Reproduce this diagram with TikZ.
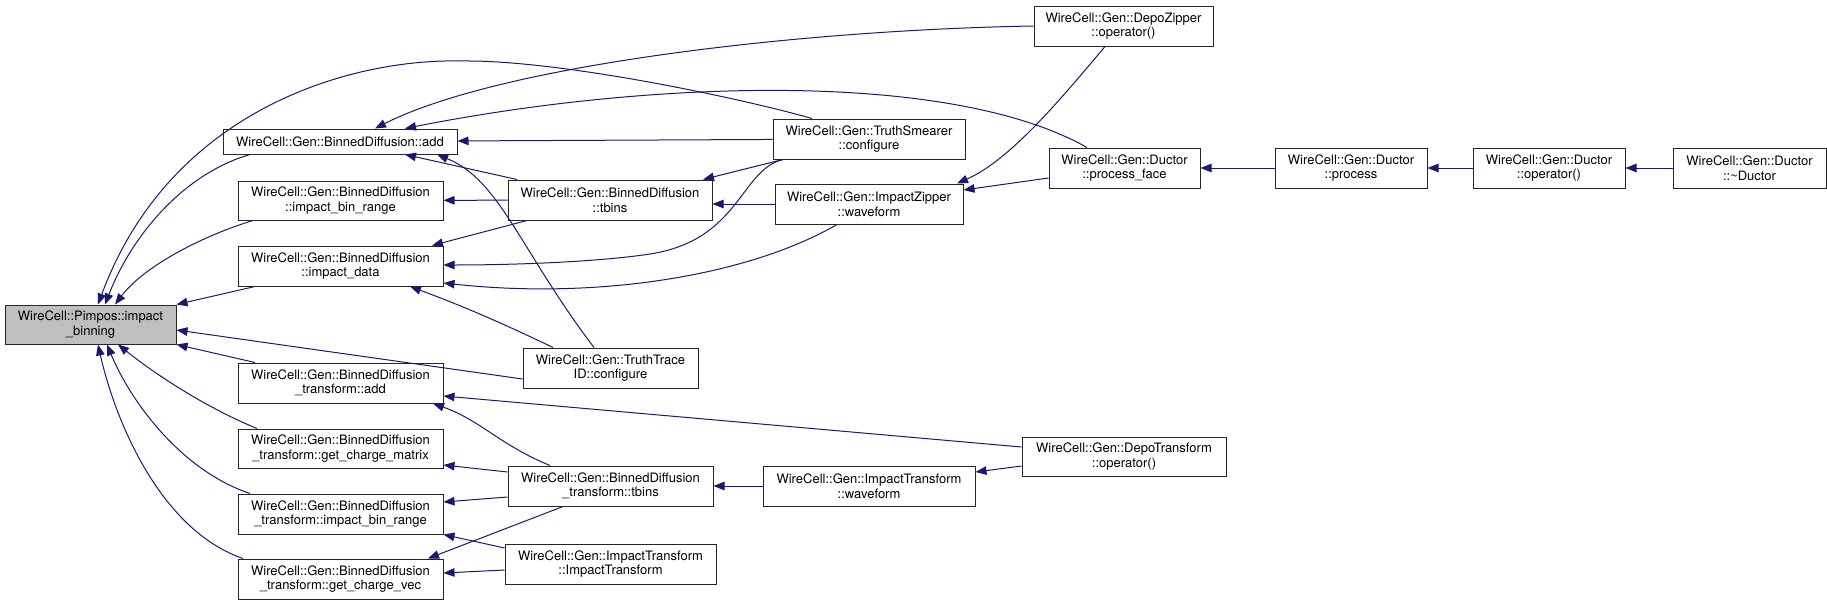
\documentclass[tikz,border=0pt]{standalone}
\usepackage{fontspec}
\setmainfont{TeX Gyre Heros}
\usetikzlibrary{arrows.meta}
\definecolor{edgeblue}{HTML}{191970}
\definecolor{hilite}{HTML}{BFBFBF}
\begin{document}
\begin{tikzpicture}[x=1pt,y=-1pt,
  fn/.style={draw=black!85, fill=white, line width=1pt, inner sep=0pt,
    minimum height=40pt, align=center, font=\fontsize{13}{14.5}\selectfont},
  call/.style={draw=edgeblue, line width=1pt, -{Triangle[length=11pt,width=8.5pt]}}]
\useasboundingbox (0,0) rectangle (1827,605);

  % Callee of all
  \node[fn, fill=hilite, minimum width=171pt, minimum height=39pt] (ib) at (90.5,324.5)
    {WireCell::Pimpos::impact\\\_binning};

  % Column 2
  \node[fn, minimum width=234pt, minimum height=25pt] (bdadd) at (340,141.5) {WireCell::Gen::BinnedDiffusion::add};
  \node[fn, minimum width=205pt, minimum height=39pt] (bdibr) at (340.5,200.5) {WireCell::Gen::BinnedDiffusion\\::impact\_bin\_range};
  \node[fn, minimum width=205pt] (bdid) at (340.5,266) {WireCell::Gen::BinnedDiffusion\\::impact\_data};
  \node[fn, minimum width=205pt] (btadd) at (340.5,383) {WireCell::Gen::BinnedDiffusion\\\_transform::add};
  \node[fn, minimum width=205pt, minimum height=39pt] (btgcm) at (340.5,448.5) {WireCell::Gen::BinnedDiffusion\\\_transform::get\_charge\_matrix};
  \node[fn, minimum width=205pt] (btibr) at (340.5,514) {WireCell::Gen::BinnedDiffusion\\\_transform::impact\_bin\_range};
  \node[fn, minimum width=205pt] (btgcv) at (340.5,579) {WireCell::Gen::BinnedDiffusion\\\_transform::get\_charge\_vec};

  % Column 3
  \node[fn, minimum width=204pt] (bdtb) at (610,200) {WireCell::Gen::BinnedDiffusion\\::tbins};
  \node[fn, minimum width=175pt] (ttid) at (610.5,368) {WireCell::Gen::TruthTrace\\ID::configure};
  \node[fn, minimum width=205pt] (bttb) at (610.5,486) {WireCell::Gen::BinnedDiffusion\\\_transform::tbins};
  \node[fn, minimum width=211pt] (itit) at (610.5,564) {WireCell::Gen::ImpactTransform\\::ImpactTransform};

  % Column 4
  \node[fn, minimum width=192pt] (tsconf) at (869,139) {WireCell::Gen::TruthSmearer\\::configure};
  \node[fn, minimum width=188pt] (izwf) at (869,204) {WireCell::Gen::ImpactZipper\\::waveform};
  \node[fn, minimum width=212pt] (itwf) at (869,486) {WireCell::Gen::ImpactTransform\\::waveform};

  % Column 5 and the Ductor chain
  \node[fn, minimum width=179pt] (dzop) at (1123.5,26) {WireCell::Gen::DepoZipper\\::operator()};
  \node[fn, minimum width=151pt] (dpf) at (1124.5,168) {WireCell::Gen::Ductor\\::process\_face};
  \node[fn, minimum width=204pt, minimum height=39pt] (dtop) at (1124,456.5) {WireCell::Gen::DepoTransform\\::operator()};
  \node[fn, minimum width=152pt] (dproc) at (1351,168) {WireCell::Gen::Ductor\\::process};
  \node[fn, minimum width=152pt] (dop) at (1549,168) {WireCell::Gen::Ductor\\::operator()};
  \node[fn, minimum width=153pt] (ddtor) at (1749.5,168) {WireCell::Gen::Ductor\\::\textasciitilde Ductor};

  % Straight calls
  \foreach \a/\b in {ddtor/dop, dop/dproc, dproc/dpf, itwf/bttb, tsconf/bdadd, bdtb/bdibr}
    \draw[call] (\a) -- (\b);
  \draw[call] (izwf.west) -- (izwf.west -| bdtb.east);

  % Calls into impact_binning
  \draw[call] ([xshift=-57pt]tsconf.north) .. controls (740,98) and (560,60) .. (463,61)
    .. controls (350,58) and (170,110) .. ([xshift=7.5pt]ib.north);
  \draw[call] ([xshift=-90pt]bdadd.south) .. controls (180,175) and (130,240) .. ([xshift=14.5pt]ib.north);
  \draw[call] ([xshift=-87.5pt]bdibr.south) .. controls (205,235) and (145,265) .. ([xshift=24.5pt]ib.north);
  \draw[call] ([xshift=-85.5pt]bdid.south) -- (ib.north east);
  \draw[call] ([yshift=-11pt]ttid.west) -- ([yshift=-5.5pt]ib.east);
  \draw[call] ([xshift=-85.5pt]btadd.north) -- (ib.south east);
  \draw[call] ([xshift=-83.5pt]btgcm.north) .. controls (200,405) and (150,370) .. ([xshift=27.5pt]ib.south);
  \draw[call] ([xshift=-90.5pt]btibr.north) .. controls (180,470) and (130,400) .. ([xshift=16.5pt]ib.south);
  \draw[call] ([xshift=-97.5pt]btgcv.north) .. controls (160,530) and (115,420) .. ([xshift=7.5pt]ib.south);

  % Calls into BinnedDiffusion::add
  \draw[call] (dzop.west) .. controls (800,30) and (500,65) .. ([xshift=35pt]bdadd.north);
  \draw[call] ([xshift=-37.5pt]dpf.north) .. controls (950,70) and (650,80) .. ([xshift=65pt]bdadd.north);
  \draw[call] ([xshift=-93pt]bdtb.north) -- ([xshift=65pt]bdadd.south);
  \draw[call] ([xshift=-16.5pt]ttid.north) .. controls (520,250) and (500,180) .. ([xshift=97pt]bdadd.south);

  % Calls into BinnedDiffusion::impact_data
  \draw[call] ([xshift=-83pt]bdtb.south) -- ([xshift=91.5pt]bdid.north);
  \draw[call] ([xshift=-86pt]tsconf.south) .. controls (740,170) and (740,240) .. (650,254)
    .. controls (590,263) and (500,265) .. ([yshift=1pt]bdid.east);
  \draw[call] ([xshift=-32pt]izwf.south) .. controls (750,275) and (600,300) .. ([yshift=-17pt]bdid.east);
  \draw[call] ([xshift=-57.5pt]ttid.north) .. controls (500,322) and (460,305) .. ([xshift=69.5pt]bdid.south);

  % Calls into tbins and ImpactZipper::waveform
  \draw[call] ([xshift=-86pt]tsconf.south) -- ([xshift=93pt]bdtb.north);
  \draw[call] ([xshift=-18.5pt]dzop.south) .. controls (1060,100) and (1010,160) .. ([xshift=88pt]izwf.north);
  \draw[call] ([yshift=-10pt]dpf.west) -- ([yshift=14pt]izwf.east);

  % Calls into the BinnedDiffusion_transform family
  \draw[call] ([yshift=9.5pt]dtop.west) -- ([yshift=-13pt]btadd.east);
  \draw[call] ([xshift=-60.5pt]bttb.north) .. controls (500,445) and (480,420) .. ([xshift=92.5pt]btadd.south);
  \draw[call] ([yshift=14pt]bttb.west) -- ([yshift=-16.5pt]btgcm.east);
  \draw[call] ([yshift=-11pt]bttb.west) -- ([yshift=12pt]btibr.east);
  \draw[call] ([yshift=16pt]itit.west) -- (btibr.south east);
  \draw[call] ([xshift=-47.5pt]bttb.south) -- ([xshift=87.5pt]btgcv.north);
  \draw[call] ([yshift=-6pt]itit.west) -- ([yshift=6pt]btgcv.east);
  \draw[call] ([yshift=-9.5pt]dtop.west) -- ([yshift=14pt]itwf.east);
\end{tikzpicture}
\end{document}
